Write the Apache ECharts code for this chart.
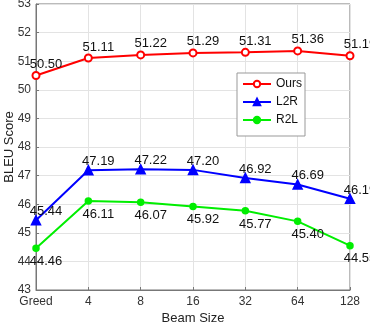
<!DOCTYPE html>
<html>
<head>
<meta charset="utf-8">
<script src="https://cdn.jsdelivr.net/npm/echarts@6/dist/echarts.min.js"></script>
<style>
  html, body { margin: 0; padding: 0; background: #fff; }
  #chart { width: 370px; height: 327px; }
</style>
</head>
<body>
<div id="chart"></div>
<script>
// beam sizes on the x axis
const beamSizes = ["Greed", "4", "8", "16", "32", "64", "128"];
const ours = [50.50, 51.11, 51.22, 51.29, 51.31, 51.36, 51.19];
const l2r = [45.44, 47.19, 47.22, 47.20, 46.92, 46.69, 46.19];
const r2l = [44.46, 46.11, 46.07, 45.92, 45.77, 45.40, 44.55];

const chart = echarts.init(document.getElementById("chart"));
const font = "Liberation Sans, Arial, sans-serif";

function mkSeries(name, data, color, symbol, size, pos, dy) {
  return {
    name: name,
    type: "line",
    data: data,
    symbol: symbol,
    symbolSize: size,
    lineStyle: { color: color, width: 2 },
    itemStyle: { color: color, borderColor: color, borderWidth: 1.5 },
    label: {
      show: true,
      position: pos,
      distance: 3,
      offset: [10, dy],
      color: "#111",
      fontSize: 13,
      fontFamily: font,
      formatter: (p) => p.value.toFixed(2),
    },
    animation: false,
  };
}

const option = {
  grid: {
    left: 36, right: 20, top: 4, bottom: 37,
    outerBoundsMode: "none",
    containLabel: false,
    show: true, borderColor: "#777", borderWidth: 1,
  },
  legend: {
    orient: "vertical",
    left: 237, top: 73,
    itemWidth: 28, itemHeight: 8, itemGap: 6,
    padding: [5, 3, 10, 5],
    backgroundColor: "#fff",
    borderColor: "#999", borderWidth: 1,
    textStyle: { fontFamily: font, fontSize: 12, color: "#111" },
    data: ["Ours", "L2R", "R2L"],
  },
  xAxis: {
    type: "category",
    data: beamSizes,
    boundaryGap: false,
    name: "Beam Size",
    nameLocation: "middle",
    nameGap: 22,
    nameMoveOverlap: false,
    nameTextStyle: { fontFamily: font, fontSize: 13, color: "#222" },
    axisLine: { lineStyle: { color: "#777" } },
    axisTick: { inside: true, length: 3, lineStyle: { color: "#777" } },
    axisLabel: { fontFamily: font, fontSize: 12, color: "#333", margin: 6 },
    splitLine: { show: true, lineStyle: { color: "#e3e3e3" } },
  },
  yAxis: {
    type: "value",
    min: 43, max: 53, interval: 1,
    name: "BLEU Score",
    nameLocation: "middle",
    nameGap: 20,
    nameMoveOverlap: false,
    nameTextStyle: { fontFamily: font, fontSize: 13, color: "#222" },
    axisLine: { show: true, lineStyle: { color: "#777" } },
    axisTick: { show: true, inside: true, length: 3, lineStyle: { color: "#777" } },
    axisLabel: { fontFamily: font, fontSize: 12, color: "#333", margin: 5 },
    splitLine: { show: true, lineStyle: { color: "#e3e3e3" } },
  },
  series: [
    mkSeries("Ours", ours, "#ff0000", "emptyCircle", 7, "top", 3),
    mkSeries("L2R", l2r, "#0000ff", "triangle", 9, "top", 6),
    mkSeries("R2L", r2l, "#00ee00", "circle", 6, "bottom", 0),
  ],
};
chart.setOption(option);
</script>
</body>
</html>
